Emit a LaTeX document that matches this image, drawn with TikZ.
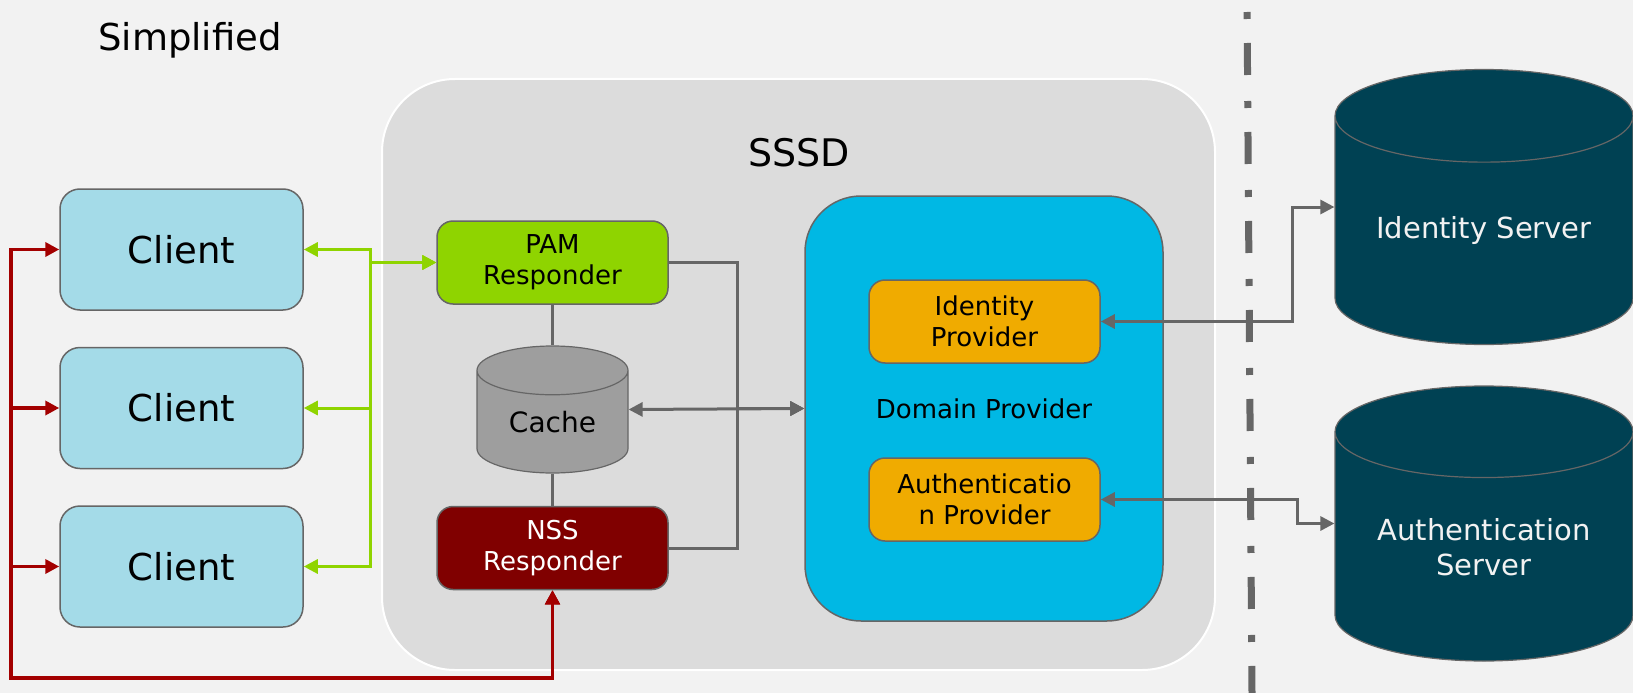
\documentclass[tikz,border=0pt]{standalone}
\usepackage{fontspec}
\setmainfont{DejaVu Sans}
\usetikzlibrary{arrows.meta, shapes.geometric}

\definecolor{bgcol}{HTML}{F2F2F2}
\definecolor{sssdcol}{HTML}{DCDCDC}
\definecolor{linecol}{HTML}{666666}
\definecolor{clientcol}{HTML}{A4DBE8}
\definecolor{pamcol}{HTML}{8FD400}
\definecolor{nsscol}{HTML}{800000}
\definecolor{cachecol}{HTML}{9E9E9E}
\definecolor{domaincol}{HTML}{00B8E4}
\definecolor{provcol}{HTML}{F0AB00}
\definecolor{servcol}{HTML}{004153}
\definecolor{redcol}{HTML}{A30000}

\newcommand{\fsz}[2]{\fontsize{#1}{#2}\selectfont}

\begin{document}
\begin{tikzpicture}[
    x=1pt, y=-1pt,
    box/.style={draw=linecol, line width=1.5pt, rounded corners=16pt, align=center, inner sep=0pt},
    client/.style={box, fill=clientcol, rounded corners=20pt, minimum width=243pt, minimum height=121pt, font=\fsz{37}{44}},
    resp/.style={box, minimum width=231pt, minimum height=83pt, font=\fsz{26}{31}},
    prov/.style={box, fill=provcol, minimum width=231pt, minimum height=83pt, font=\fsz{26}{31}},
    db/.style={cylinder, shape border rotate=90, draw=linecol, line width=1.2pt, align=center, inner sep=0pt, anchor=shape center},
    server/.style={db, fill=servcol, text=bgcol, minimum width=298pt, minimum height=275pt, aspect=0.43, font=\fsz{29}{35}},
    greenflow/.style={{Triangle[length=14pt, width=14pt]}-{Triangle[length=14pt, width=14pt]}, draw=pamcol, line width=3pt},
    redflow/.style={{Triangle[length=14pt, width=14pt]}-{Triangle[length=14pt, width=14pt]}, draw=redcol, line width=3.5pt},
    grayflow/.style={-{Triangle[length=14pt, width=14pt]}, draw=linecol, line width=3pt},
    graytwo/.style={{Triangle[length=14pt, width=14pt]}-{Triangle[length=14pt, width=14pt]}, draw=linecol, line width=3pt},
  ]

  % ---- background ----
  \fill[bgcol] (0,0) rectangle (1633,693);
  \useasboundingbox (0,0) rectangle (1633,693);

  \node[font=\fsz{37}{44}] (simple) at (190,40) {Simplified};

  % ---- network boundary ----
  \draw[linecol, line width=7pt, dash pattern=on 7pt off 24pt on 32pt off 26pt, dash phase=77pt]
    (1247,0) -- (1252,693);

  % ---- SSSD container ----
  \node[draw=white, line width=2pt, fill=sssdcol, rounded corners=73pt,
        minimum width=833pt, minimum height=591pt] (sssd) at (798.5,374.5) {};
  \node[font=\fsz{38}{44}] (sssdlbl) at (799,153) {SSSD};

  % ---- clients ----
  \node[client] (c1) at (181.5,249.5) {Client};
  \node[client] (c2) at (181.5,408) {Client};
  \node[client] (c3) at (181.5,566.5) {Client};

  % ---- responders and cache ----
  \node[resp, fill=pamcol] (pam) at (552.5,262.5) {PAM\\Responder};
  \node[resp, fill=nsscol, text=white] (nss) at (552.5,548) {NSS\\Responder};
  \node[db, fill=cachecol, minimum width=151pt, minimum height=127pt, aspect=0.56,
        font=\fsz{28}{34}] (cache) at (552.5,409.5) {Cache};

  % ---- domain provider ----
  \node[box, fill=domaincol, rounded corners=56pt, minimum width=358pt, minimum height=425pt,
        font=\fsz{26}{31}] (dp) at (984,408.5) {Domain Provider};
  \node[prov] (idp) at (984.5,321.5) {Identity\\Provider};
  \node[prov] (authp) at (984.5,499.5) {Authenticatio\\n Provider};

  % ---- servers ----
  \node[server] (idsrv) at (1484,207) {Identity Server};
  \node[server] (ausrv) at (1484,523.5) {Authentication\\Server};

  % ---- turning points ----
  \coordinate (gbus) at (370,0);
  \coordinate (rcorner) at (11,678);
  \coordinate (gybus) at (737,0);
  \coordinate (idturn) at (1292,0);
  \coordinate (auturn) at (1297,0);

  % clients <-> PAM
  \foreach \c in {c1,c2,c3}
    \draw[greenflow] (\c.east) -- (\c.east -| gbus) |- (pam.west);

  % NSS <-> clients
  \foreach \c in {c1,c2,c3}
    \draw[redflow] (nss.south) |- (rcorner) |- (\c.west);

  % responders -> domain provider
  \draw[linecol, line width=3pt] (pam.south) -- (cache.north);
  \draw[linecol, line width=3pt] (cache.south) -- (nss.north);
  \draw[grayflow] (pam.east) -- (pam.east -| gybus) |- (dp.west);
  \draw[grayflow] (nss.east) -- (nss.east -| gybus) |- (dp.west);
  \draw[graytwo] (cache.east |- cache.shape center) -- (dp.west);

  % providers <-> servers
  \draw[graytwo] (idp.east) -- (idp.east -| idturn) |- (idsrv.west |- idsrv.shape center);
  \draw[graytwo] (authp.east) -- (authp.east -| auturn) |- (ausrv.west |- ausrv.shape center);

\end{tikzpicture}
\end{document}
